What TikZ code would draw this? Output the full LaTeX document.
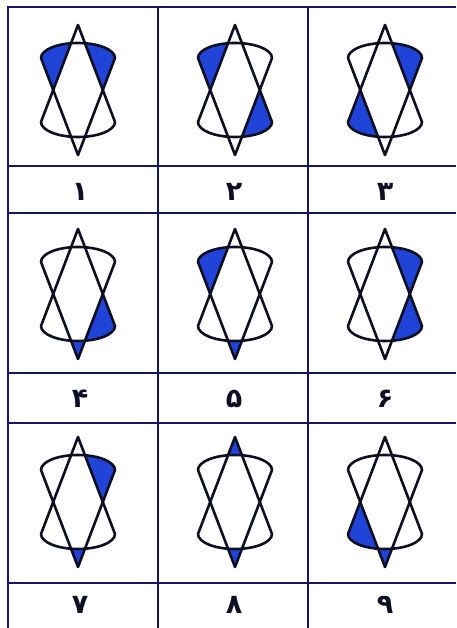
\documentclass[tikz,border=0pt]{standalone}
\usepackage{fontspec}
\newfontfamily\persianfont[Script=Arabic]{DejaVu Sans}
\usetikzlibrary{positioning}
\definecolor{gridnavy}{RGB}{22,22,100}
\definecolor{inkblack}{RGB}{15,15,35}
\definecolor{fillblue}{RGB}{32,68,215}

\begin{document}
\begin{tikzpicture}[
		x=1pt, y=1pt,
		gridline/.style={draw=gridnavy, line width=2pt},
		outline/.style={draw=inkblack, line width=2.6pt, line join=round},
		bluefill/.style={fill=fillblue},
		digit/.style={font=\persianfont\bfseries\fontsize{27}{30}\selectfont, text=inkblack, inner sep=0pt},
		pics/fUL/.style={code={\fill[bluefill] (-37,32) arc[start angle=180, end angle=101, x radius=37pt, y radius=15pt] -- (-24.8,0) -- cycle;}},
		pics/fUR/.style={code={\fill[bluefill] (37,32) arc[start angle=0, end angle=79, x radius=37pt, y radius=15pt] -- (24.8,0) -- cycle;}},
		pics/fLL/.style={code={\fill[bluefill] (-37,-32) arc[start angle=180, end angle=259, x radius=37pt, y radius=15pt] -- (-24.8,0) -- cycle;}},
		pics/fLR/.style={code={\fill[bluefill] (37,-32) arc[start angle=360, end angle=281, x radius=37pt, y radius=15pt] -- (24.8,0) -- cycle;}},
		pics/fT/.style={code={\fill[bluefill] (0,65) -- (-7,46.7) arc[start angle=101, end angle=79, x radius=37pt, y radius=15pt] -- cycle;}},
		pics/fB/.style={code={\fill[bluefill] (0,-65) -- (-7,-46.7) arc[start angle=259, end angle=281, x radius=37pt, y radius=15pt] -- cycle;}},
		pics/sixstar/.style={code={
				\draw[outline] (0,65) -- (-37,-32) arc[start angle=180, end angle=360, x radius=37pt, y radius=15pt] -- cycle;
				\draw[outline] (0,-65) -- (37,32) arc[start angle=0, end angle=180, x radius=37pt, y radius=15pt] -- cycle;}}
		]
		\useasboundingbox (0,0) rectangle (456,628);
		
		% Grid
		\draw[gridline] (456,621) -- (8,621) -- (8,0);
		\foreach \gx in {158,308}
		\draw[gridline] (\gx,621) -- (\gx,0);
		\foreach \gy in {462,415,255,205,45}
		\draw[gridline] (8,\gy) -- (456,\gy);
		
		% Figures
		\foreach \cx/\cy/\regions in {78/538/{fUL,fUR}, 235/538/{fUL,fLR}, 385/538/{fUR,fLL},
			78/334/{fLR,fB}, 235/334/{fUL,fB}, 385/334/{fUR,fLR},
			78/126/{fUR,fB}, 235/126/{fT,fB}, 385/126/{fLL,fB}}{
			\foreach \r in \regions
			\pic at (\cx,\cy) {\r};
			\pic at (\cx,\cy) {sixstar};
		}
		
		% Labels
		\node[digit] (lab1) at (80,436) {۱};
		\node[digit] (lab2) at (234,436) {۲};
		\node[digit] (lab3) at (385,436) {۳};
		\node[digit] (lab4) at (80,229) {۴};
		\node[digit] (lab5) at (234,229) {۵};
		\node[digit] (lab6) at (385,229) {۶};
		\node[digit] (lab7) at (80,23) {۷};
		\node[digit] (lab8) at (234,23) {۸};
		\node[digit] (lab9) at (385,23) {۹};
		
	\end{tikzpicture}
\end{document}
